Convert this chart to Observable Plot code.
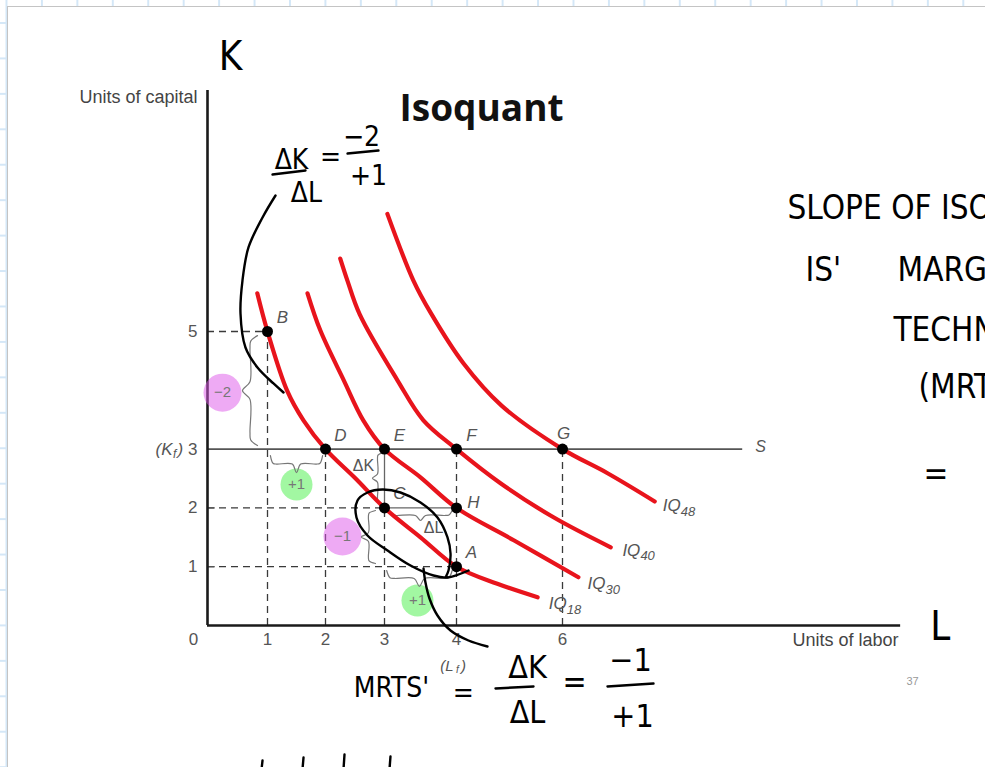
<!DOCTYPE html>
<html>
<head>
<meta charset="utf-8">
<script src="https://cdn.jsdelivr.net/npm/d3@7"></script>
<script src="https://cdn.jsdelivr.net/npm/@observablehq/plot@0.6"></script>
<style>
  html, body { margin: 0; padding: 0; width: 985px; height: 767px; overflow: hidden; }
  body {
    background-color: #fff;
    background-image:
      linear-gradient(to right, #d4e7f7 2px, transparent 2px),
      linear-gradient(to bottom, #d4e7f7 2px, transparent 2px);
    background-size: 35.45px 35.45px;
    background-position: 5.5px 22px;
  }
  #sheet { position: absolute; left: 7px; top: 6px; width: 1000px; height: 800px; background: #fff;
           border-left: 1.5px solid #c4c4c4; border-top: 1.5px solid #c4c4c4; }
  #chart { position: absolute; left: 0; top: 0; }
  #chart svg { background: transparent !important; }
</style>
</head>
<body>
<div id="sheet"></div>
<div id="chart"></div>
<script>
// Isoquant map: units of labour (L) on x, units of capital (K) on y.
const labourTicks = [1, 2, 3, 4, 6];
const capitalTicks = [1, 2, 3, 5];

// Isoquants as [L, K] pairs
const iq18 = [[0.83, 5.65], [1, 5], [1.34, 3.99], [1.62, 3.49], [2, 3], [2.51, 2.5], [3, 2], [3.5, 1.5], [4, 1], [4.77, 0.71], [5.53, 0.48]];
const iq30 = [[1.69, 5.65], [1.91, 5.02], [2.31, 4.17], [2.64, 3.49], [3, 3], [3.5, 2.52], [4, 2], [5.08, 1.45], [6.3, 0.82]];
const iq40 = [[2.25, 6.24], [2.37, 5.87], [2.58, 5.29], [3.18, 4.17], [3.54, 3.49], [4, 3], [4.83, 2.42], [5.83, 1.84], [6.91, 1.33]];
const iq48 = [[3.04, 7.0], [3.4, 5.87], [3.64, 5.32], [4.13, 4.46], [4.85, 3.74], [6, 3], [6.85, 2.59], [7.74, 2.11]];
const iqLabels = [
  {sub: "18", l: 5.74, k: 0.37},
  {sub: "30", l: 6.47, k: 0.71},
  {sub: "40", l: 7.13, k: 1.28},
  {sub: "48", l: 7.89, k: 2.04}
];

// Named input combinations
const points = [
  {name: "B", l: 1, k: 5}, {name: "D", l: 2, k: 3}, {name: "E", l: 3, k: 3},
  {name: "F", l: 4, k: 3}, {name: "G", l: 6, k: 3}, {name: "C", l: 3, k: 2},
  {name: "H", l: 4, k: 2}, {name: "A", l: 4, k: 1}
];

// Dashed reference lines
const dashH = [{k: 5, l1: 0, l2: 1}, {k: 2, l1: 0, l2: 3}, {k: 1, l1: 0, l2: 4}];
const dashV = [{l: 1, k1: 0, k2: 5}, {l: 2, k1: 0, k2: 3}, {l: 3, k1: 0, k2: 2}, {l: 4, k1: 0, k2: 3}, {l: 6, k1: 0, k2: 3}];
// Solid legs of the ΔK / ΔL triangle (E → C → H)
const legV = [{l: 3, k1: 2, k2: 3}];
const legH = [{k: 2, l1: 3, l2: 4}];
const fixedCapital = 3;      // K_f, the S line
const sLineEnd = 9.4;
const axisTopK = 9.1;
const axisEndL = 12.38;

// Braces: two ends and the direction of the tip
const braces = [
  {a: [0.833, 4.93], b: [0.833, 3.06], d: [-0.25, 0]},
  {a: [1.05, 2.89], b: [1.95, 2.89], d: [0, -0.29]},
  {a: [2.966, 2.94], b: [2.966, 2.07], d: [-0.17, 0]},
  {a: [3.06, 1.956], b: [3.94, 1.956], d: [0, -0.17]},
  {a: [2.847, 1.956], b: [2.847, 1.054], d: [-0.24, 0]},
  {a: [3.03, 0.935], b: [3.94, 0.935], d: [0, -0.27]}
];
const deltaLabels = [{text: "ΔK", l: 2.644, k: 2.72}, {text: "ΔL", l: 3.681, k: 1.667}];

// Highlighted changes
const pinkMarks = [{text: "−2", l: 0.25, k: 3.96}, {text: "−1", l: 2.288, k: 1.514}];
const greenMarks = [{text: "+1", l: 1.5, k: 2.398}, {text: "+1", l: 3.458, k: 0.425}];

// Ink notes
const inkArrow = [[1.138, 7.313], [0.917, 6.939], [0.683, 6.429], [0.583, 5.867], [0.55, 5.306], [0.633, 4.728], [0.833, 4.388], [1.103, 4.116], [1.276, 3.963]];
const inkLoop = [[4.226, 0.935], [3.875, 0.816], [3.681, 0.85], [3.361, 1.02], [3.042, 1.276], [2.712, 1.531], [2.525, 1.837], [2.542, 2.126], [2.712, 2.262], [2.966, 2.313], [3.222, 2.262], [3.5, 2.092], [3.736, 1.837], [3.875, 1.497], [3.917, 1.224], [3.889, 0.935], [3.847, 0.816]];
const inkTail = [[3.542, 0.969], [3.569, 0.731], [3.625, 0.459], [3.736, 0.17], [3.917, -0.085], [4.226, -0.255], [4.585, -0.357]];
const inkBars = [
  {l1: 1.086, k1: 7.67, l2: 1.655, k2: 7.738},
  {l1: 2.373, k1: 8.027, l2: 2.898, k2: 8.078},
  {l1: 4.736, k1: -1.071, l2: 5.453, k2: -1.037},
  {l1: 6.849, k1: -1.037, l2: 7.717, k2: -0.986}
];
const inkStubs = [
  {l1: 0.917, k1: -2.296, l2: 0.9, k2: -2.45},
  {l1: 1.621, k1: -2.245, l2: 1.603, k2: -2.45},
  {l1: 2.322, k1: -2.194, l2: 2.305, k2: -2.45},
  {l1: 3.083, k1: -2.228, l2: 3.069, k2: -2.45}
];
const inkTopFormula = [
  {text: "ΔK", l: 1.414, k: 7.908}, {text: "ΔL", l: 1.672, k: 7.347},
  {text: "=", l: 2.085, k: 7.959}, {text: "−2", l: 2.61, k: 8.299}, {text: "+1", l: 2.729, k: 7.636}
];
const inkMrts = [
  {text: "MRTS'", l: 3.097, k: -1.071}, {text: "=", l: 4.13, k: -1.14},
  {text: "ΔK", l: 5.34, k: -0.714}, {text: "ΔL", l: 5.34, k: -1.48},
  {text: "=", l: 6.226, k: -0.969}, {text: "−1", l: 7.283, k: -0.595}, {text: "+1", l: 7.321, k: -1.548}
];
const inkNotes = [
  {text: "SLOPE OF ISOQUANT", l: 10.245, k: 7.092},
  {text: "IS'", l: 10.585, k: 6.037},
  {text: "MARGINAL RATE OF", l: 12.321, k: 6.037},
  {text: "TECHNICAL", l: 12.245, k: 5.017},
  {text: "(MRTS)", l: 12.717, k: 4.048},
  {text: "=", l: 12.81, k: 2.568}
];
const inkAxes = [{text: "K", l: 0.383, k: 9.66}, {text: "L", l: 13.13, k: -0.03}];

// Brace outline: fraction along the span, fraction of the depth
const braceProfile = [[0, 0], [0.05, 0.45], [0.12, 0.5], [0.42, 0.5], [0.5, 1], [0.58, 0.5], [0.88, 0.5], [0.95, 0.45], [1, 0]];
const bracePaths = braces.map(({a, b, d}) =>
  braceProfile.map(([t, s]) => [a[0] + t * (b[0] - a[0]) + s * d[0], a[1] + t * (b[1] - a[1]) + s * d[1]]));

const font = "Liberation Sans, Arial, sans-serif";
const ink = "DejaVu Sans Condensed, Liberation Sans Narrow, DejaVu Sans, sans-serif";
const grey = "#555";
const red = "#e8141c";
const px = (d) => d[0], py = (d) => d[1];

const curveMark = (data) => Plot.line(data, {x: px, y: py, stroke: red, strokeWidth: 4.2, curve: "catmull-rom", strokeLinecap: "round"});
const inkLine = (data) => Plot.line(data, {x: px, y: py, stroke: "#000", strokeWidth: 2.4, curve: "catmull-rom", strokeLinecap: "round", strokeLinejoin: "round"});
const label = {fontSize: 17, fill: grey, fontFamily: font};
const italic = {...label, fontStyle: "italic"};

const chart = Plot.plot({
  width: 985,
  height: 767,
  marginLeft: 207,
  marginRight: 105,
  marginTop: 90,
  marginBottom: 142,
  style: {fontFamily: font, background: "transparent"},
  x: {type: "linear", domain: [0, 1, 2, 3, 4, 12], range: [207, 267, 325, 384, 456, 880], label: null},
  y: {type: "linear", domain: [0, 5], range: [625, 331], label: null},
  marks: [
    // guides
    Plot.ruleY(dashH, {y: "k", x1: "l1", x2: "l2", stroke: "#3a3a3a", strokeWidth: 1.3, strokeDasharray: "7,5"}),
    Plot.ruleX(dashV, {x: "l", y1: "k1", y2: "k2", stroke: "#3a3a3a", strokeWidth: 1.3, strokeDasharray: "7,5"}),
    Plot.ruleX(legV, {x: "l", y1: "k1", y2: "k2", stroke: "#666", strokeWidth: 1.3}),
    Plot.ruleY(legH, {y: "k", x1: "l1", x2: "l2", stroke: "#666", strokeWidth: 1.3}),
    Plot.ruleY([fixedCapital], {x1: 0, x2: sLineEnd, stroke: "#555", strokeWidth: 1.6}),
    Plot.ruleY([1, 2], {x1: 0, x2: 0.13, stroke: "#555", strokeWidth: 1.3}),

    // axes
    Plot.ruleX([0], {y1: 0, y2: axisTopK, stroke: "#1a1a1a", strokeWidth: 2.6}),
    Plot.ruleY([0], {x1: 0, x2: axisEndL, stroke: "#1a1a1a", strokeWidth: 2.6}),
    Plot.axisX(labourTicks, {tickSize: 0, tickPadding: 7, tickFormat: (d) => String(d), fontSize: 17, color: grey, fontFamily: font, label: null}),
    Plot.axisY(capitalTicks, {tickSize: 0, tickPadding: 10, tickFormat: (d) => String(d), fontSize: 17, color: grey, fontFamily: font, label: null}),
    Plot.text(["0"], {x: -0.233, y: -0.238, ...label}),
    Plot.text(["Units of capital"], {x: -0.167, y: 8.98, textAnchor: "end", fontSize: 18, letterSpacing: "1px", fill: "#444", fontFamily: font}),
    Plot.text(["Units of labor"], {x: 12.34, y: -0.255, textAnchor: "end", fontSize: 18, letterSpacing: "1px", fill: "#444", fontFamily: font}),
    Plot.text(["(K"], {x: -0.583, y: 3, textAnchor: "end", ...italic}),
    Plot.text(["f"], {x: -0.575, y: 3, dy: 5, textAnchor: "start", ...italic, fontSize: 12}),
    Plot.text([")"], {x: -0.5, y: 3, textAnchor: "start", ...italic}),
    Plot.text(["(L"], {x: 3.958, y: -0.69, textAnchor: "end", ...italic, fontSize: 15}),
    Plot.text(["f"], {x: 3.993, y: -0.69, dy: 4, textAnchor: "start", ...italic, fontSize: 10}),
    Plot.text([")"], {x: 4.085, y: -0.69, textAnchor: "start", ...italic, fontSize: 15}),
    Plot.text(["S"], {x: 9.736, y: 3.03, ...italic, fontSize: 16}),
    Plot.text(["37"], {x: 12.604, y: -0.952, fontSize: 11, fill: "#999", fontFamily: font}),
    Plot.text(["Isoquant"], {x: 4.472, y: 8.776, fontSize: 37, fontWeight: 700, fill: "#111", fontFamily: "Open Sans, sans-serif"}),

    // highlighted changes
    Plot.dot(pinkMarks, {x: "l", y: "k", r: 19, fill: "url(#dots-pink)", stroke: null}),
    Plot.dot(greenMarks, {x: "l", y: "k", r: 16, fill: "url(#dots-green)", stroke: null}),
    Plot.text(pinkMarks, {x: "l", y: "k", text: "text", fontSize: 15, fill: "#777", fontFamily: font}),
    Plot.text(greenMarks, {x: "l", y: "k", text: "text", fontSize: 15, fill: "#777", fontFamily: font}),

    // braces and deltas
    ...bracePaths.map((p) => Plot.line(p, {x: px, y: py, stroke: "#777", strokeWidth: 1.2, curve: "catmull-rom"})),
    Plot.text(deltaLabels, {x: "l", y: "k", text: "text", ...label, fontSize: 16}),

    // isoquants
    curveMark(iq18), curveMark(iq30), curveMark(iq40), curveMark(iq48),
    Plot.text(iqLabels, {x: "l", y: "k", text: () => "IQ", textAnchor: "start", ...italic}),
    Plot.text(iqLabels, {x: "l", y: "k", text: "sub", dx: 18, dy: 6, textAnchor: "start", ...italic, fontSize: 13}),

    // input combinations
    Plot.dot(points, {x: "l", y: "k", r: 5.5, fill: "#000"}),
    Plot.text(points.filter((d) => d.name !== "G" && d.name !== "H"), {x: "l", y: "k", text: "name", dx: 15, dy: -14, ...italic}),
    Plot.text(points.filter((d) => d.name === "G"), {x: "l", y: "k", text: "name", dx: 1, dy: -16, ...italic}),
    Plot.text(points.filter((d) => d.name === "H"), {x: "l", y: "k", text: "name", dx: 17, dy: -5, ...italic}),

    // ink notes
    inkLine(inkArrow), inkLine(inkLoop), inkLine(inkTail),
    Plot.link(inkBars, {x1: "l1", y1: "k1", x2: "l2", y2: "k2", stroke: "#000", strokeWidth: 2.4, strokeLinecap: "round"}),
    Plot.link(inkStubs, {x1: "l1", y1: "k1", x2: "l2", y2: "k2", stroke: "#000", strokeWidth: 2.4, strokeLinecap: "round"}),
    Plot.text(inkTopFormula, {x: "l", y: "k", text: "text", fontSize: 28, fill: "#000", fontFamily: ink}),
    Plot.text(inkMrts.slice(0, 2), {x: "l", y: "k", text: "text", fontSize: 28, fill: "#000", fontFamily: ink}),
    Plot.text(inkMrts.slice(2), {x: "l", y: "k", text: "text", fontSize: 32, fill: "#000", fontFamily: ink}),
    Plot.text(inkNotes, {x: "l", y: "k", text: "text", textAnchor: "start", fontSize: 33, letterSpacing: "1.5px", fill: "#000", fontFamily: ink}),
    Plot.text(inkAxes, {x: "l", y: "k", text: "text", fontSize: 40, fill: "#000", fontFamily: ink})
  ]
});

// halftone fills for the highlighted changes
const defs = d3.select(chart).insert("defs", ":first-child");
[["dots-pink", "#dd55e8"], ["dots-green", "#44ee44"]].forEach(([id, color]) => {
  const p = defs.append("pattern").attr("id", id).attr("width", 2).attr("height", 2).attr("patternUnits", "userSpaceOnUse");
  p.append("rect").attr("width", 1).attr("height", 1).attr("fill", color);
  p.append("rect").attr("x", 1).attr("y", 1).attr("width", 1).attr("height", 1).attr("fill", color);
});

document.getElementById("chart").appendChild(chart);
</script>
</body>
</html>
